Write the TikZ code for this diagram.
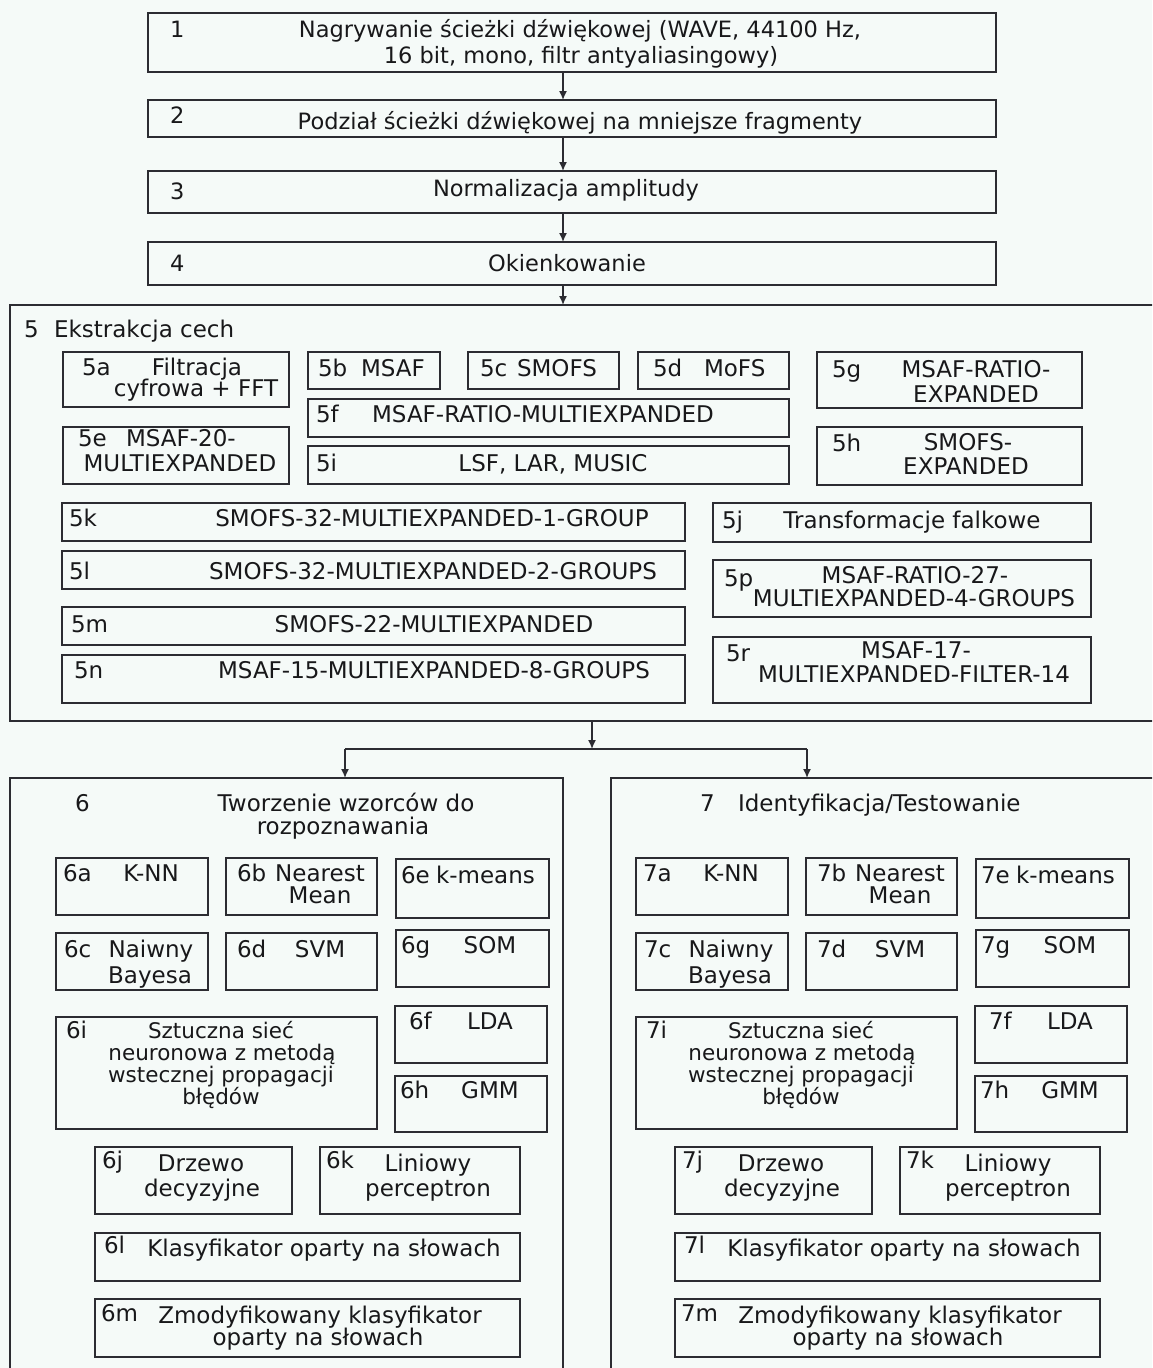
\documentclass[tikz,border=0pt]{standalone}
\usepackage{fontspec}
\setmainfont{DejaVu Sans}
\usetikzlibrary{arrows.meta,calc}
\definecolor{bg}{RGB}{245,250,248}
\definecolor{ink}{RGB}{24,24,26}
\definecolor{edge}{RGB}{44,44,50}
\newcommand\rbox[5]{\node[bx,minimum width={(#4)-(#2)},minimum height={(#5)-(#3)}] (#1) at ({((#2)+(#4))/2},{((#3)+(#5))/2}) {};}
\newcommand\ctext[3]{\node[txt] (#1) at (#2) {#3};}
\newcommand\ltext[3]{\node[txt,anchor=mid west] (#1) at (#2) {#3};}
\newcommand\clfs[1]{%
  \rbox{b#1a}{56}{858}{208}{915}
  \ltext{n#1a}{63,875}{#1a}
  \ctext{t#1a}{151,875}{K-NN}
  \rbox{b#1b}{226}{858}{377}{915}
  \ltext{n#1b}{237,875}{#1b}
  \ctext{t#1b1}{320,875}{Nearest}
  \ctext{t#1b2}{320,897}{Mean}
  \rbox{b#1e}{396}{859}{549}{918}
  \ltext{n#1e}{401,877}{#1e}
  \ltext{t#1e}{436,877}{k-means}
  \rbox{b#1c}{56}{933}{208}{990}
  \ltext{n#1c}{64,951}{#1c}
  \ctext{t#1c1}{151,951}{Naiwny}
  \ctext{t#1c2}{150,977}{Bayesa}
  \rbox{b#1d}{226}{933}{377}{990}
  \ltext{n#1d}{237,951}{#1d}
  \ctext{t#1d}{320,951}{SVM}
  \rbox{b#1g}{396}{930}{549}{987}
  \ltext{n#1g}{401,947}{#1g}
  \ctext{t#1g}{490,947}{SOM}
  \rbox{b#1i}{56}{1017}{377}{1129}
  \ltext{n#1i}{66,1032}{#1i}
  \begin{scope}[txt/.append style={font=\fontsize{21.5}{22}\selectfont}]
  \ctext{t#1i1}{221,1032}{Sztuczna sieć}
  \ctext{t#1i2}{222,1054}{neuronowa z metodą}
  \ctext{t#1i3}{221,1076}{wstecznej propagacji}
  \ctext{t#1i4}{221,1098}{błędów}
  \end{scope}
  \rbox{b#1f}{395}{1006}{547}{1063}
  \ltext{n#1f}{409,1023}{#1f}
  \ctext{t#1f}{490,1023}{LDA}
  \rbox{b#1h}{395}{1076}{547}{1132}
  \ltext{n#1h}{400,1092}{#1h}
  \ctext{t#1h}{490,1092}{GMM}
  \rbox{b#1j}{95}{1147}{292}{1214}
  \ltext{n#1j}{102,1162}{#1j}
  \ctext{t#1j1}{201,1165}{Drzewo}
  \ctext{t#1j2}{202,1190}{decyzyjne}
  \rbox{b#1k}{320}{1147}{520}{1214}
  \ltext{n#1k}{326,1162}{#1k}
  \ctext{t#1k1}{428,1165}{Liniowy}
  \ctext{t#1k2}{428,1190}{perceptron}
  \rbox{b#1l}{95}{1233}{520}{1281}
  \ltext{n#1l}{104,1247}{#1l}
  \ctext{t#1l}{324,1250}{Klasyfikator oparty na słowach}
  \rbox{b#1m}{95}{1299}{520}{1357}
  \ltext{n#1m}{101,1315}{#1m}
  \ctext{t#1m1}{320,1317}{Zmodyfikowany klasyfikator}
  \ctext{t#1m2}{318,1339}{oparty na słowach}
}
\begin{document}
\begin{tikzpicture}[x=1pt,y=-1pt,
  bx/.style={draw=edge,line width=1.7pt,rectangle,inner sep=0pt,outer sep=0pt},
  txt/.style={inner sep=0pt,outer sep=0pt,anchor=mid,yshift=-4pt,text=ink,font=\fontsize{23}{24}\selectfont},
  toptxt/.style={font=\fontsize{22.5}{24}\selectfont},
  arr/.style={draw=edge,line width=1.5pt,-{Latex[length=9pt,width=8pt]}},
  ln/.style={draw=edge,line width=1.5pt}]
\useasboundingbox (0,0) rectangle (1152,1368);
\fill[bg] (0,0) rectangle (1152,1368);
\clip (0,0) rectangle (1152,1368);
% top steps
\begin{scope}[txt/.append style={toptxt}]
\rbox{b1}{148}{13}{996}{72}
\ltext{n1}{170,31}{1}
\ctext{t1a}{580,31}{Nagrywanie ścieżki dźwiękowej (WAVE, 44100 Hz,}
\ctext{t1b}{581,57}{16 bit, mono, filtr antyaliasingowy)}
\rbox{b2}{148}{100}{996}{137}
\ltext{n2}{170,117}{2}
\ctext{t2}{580,123}{Podział ścieżki dźwiękowej na mniejsze fragmenty}
\rbox{b3}{148}{171}{996}{213}
\ltext{n3}{170,193}{3}
\ctext{t3}{566,190}{Normalizacja amplitudy}
\rbox{b4}{148}{242}{996}{285}
\ltext{n4}{170,265}{4}
\ctext{t4}{567,265}{Okienkowanie}
\end{scope}
% box 5
\rbox{b5}{10}{305}{1170}{721}
\ltext{n5}{24,331}{5}
\ltext{t5}{54,331}{Ekstrakcja cech}
\rbox{b5a}{63}{352}{289}{407}
\ltext{n5a}{82,369}{5a}
\ctext{t5a1}{197,369}{Filtracja}
\ctext{t5a2}{196,390}{cyfrowa + FFT}
\rbox{b5b}{308}{352}{440}{389}
\ltext{n5b}{318,370}{5b}
\ltext{t5b}{361,370}{MSAF}
\rbox{b5c}{468}{352}{619}{389}
\ltext{n5c}{480,370}{5c}
\ltext{t5c}{517,370}{SMOFS}
\rbox{b5d}{638}{352}{789}{389}
\ltext{n5d}{653,370}{5d}
\ltext{t5d}{704,370}{MoFS}
\rbox{b5f}{308}{399}{789}{437}
\ltext{n5f}{316,416}{5f}
\ctext{t5f}{543,416}{MSAF-RATIO-MULTIEXPANDED}
\rbox{b5i}{308}{446}{789}{484}
\ltext{n5i}{316,465}{5i}
\ctext{t5i}{553,465}{LSF, LAR, MUSIC}
\rbox{b5e}{63}{427}{289}{484}
\ltext{n5e}{78,440}{5e}
\ltext{t5e1}{126,440}{MSAF-20-}
\ctext{t5e2}{180,465}{MULTIEXPANDED}
\rbox{b5g}{817}{352}{1082}{408}
\ltext{n5g}{832,371}{5g}
\ctext{t5g1}{976,371}{MSAF-RATIO-}
\ctext{t5g2}{976,396}{EXPANDED}
\rbox{b5h}{817}{427}{1082}{485}
\ltext{n5h}{832,445}{5h}
\ctext{t5h1}{968,444}{SMOFS-}
\ctext{t5h2}{966,468}{EXPANDED}
\rbox{b5k}{62}{503}{685}{541}
\ltext{n5k}{69,520}{5k}
\ctext{t5k}{432,520}{SMOFS-32-MULTIEXPANDED-1-GROUP}
\rbox{b5l}{62}{551}{685}{589}
\ltext{n5l}{69,573}{5l}
\ctext{t5l}{433,573}{SMOFS-32-MULTIEXPANDED-2-GROUPS}
\rbox{b5m}{62}{607}{685}{645}
\ltext{n5m}{71,626}{5m}
\ctext{t5m}{434,626}{SMOFS-22-MULTIEXPANDED}
\rbox{b5n}{62}{655}{685}{703}
\ltext{n5n}{74,672}{5n}
\ctext{t5n}{434,672}{MSAF-15-MULTIEXPANDED-8-GROUPS}
\rbox{b5j}{713}{503}{1091}{542}
\ltext{n5j}{722,522}{5j}
\ctext{t5j}{912,522}{Transformacje falkowe}
\rbox{b5p}{713}{560}{1091}{617}
\ltext{n5p}{724,580}{5p}
\ctext{t5p1}{915,577}{MSAF-RATIO-27-}
\ctext{t5p2}{914,600}{MULTIEXPANDED-4-GROUPS}
\rbox{b5r}{713}{637}{1091}{703}
\ltext{n5r}{726,655}{5r}
\ctext{t5r1}{916,652}{MSAF-17-}
\ctext{t5r2}{914,676}{MULTIEXPANDED-FILTER-14}
% boxes 6 and 7
\rbox{b6}{10}{778}{563}{1390}
\ltext{n6}{75,805}{6}
\ctext{t6a}{346,805}{Tworzenie wzorców do}
\ctext{t6b}{343,828}{rozpoznawania}
\clfs{6}
\rbox{b7}{611}{778}{1170}{1390}
\ltext{n7}{700,805}{7}
\ltext{t7}{738,805}{Identyfikacja/Testowanie}
\begin{scope}[xshift=580pt]
\clfs{7}
\end{scope}
% connectors
\coordinate (sp) at (563,0);
\draw[arr] (b1.south -| sp) -- (b2.north -| sp);
\draw[arr] (b2.south -| sp) -- (b3.north -| sp);
\draw[arr] (b3.south -| sp) -- (b4.north -| sp);
\draw[arr] (b4.south -| sp) -- (b5.north -| sp);
\coordinate (split) at (592,749);
\coordinate (d6) at (345,749);
\coordinate (d7) at (807,749);
\draw[arr] (b5.south -| split) -- (split);
\draw[ln] (d6) -- (d7);
\draw[arr] (d6) -- (d6 |- b6.north);
\draw[arr] (d7) -- (d7 |- b7.north);
\end{tikzpicture}
\end{document}
